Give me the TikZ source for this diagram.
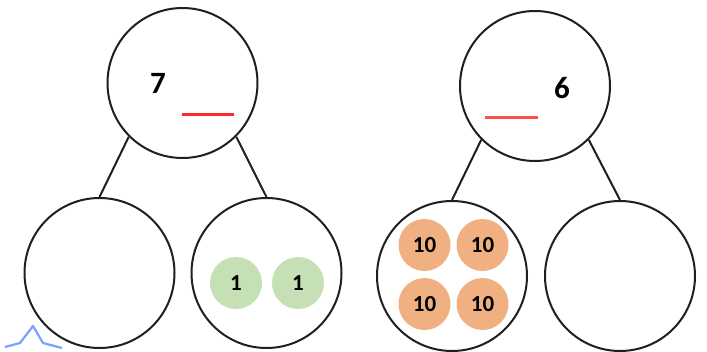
\documentclass[tikz,border=0pt]{standalone}
\usepackage{fontspec}
\setmainfont{Carlito}
\definecolor{dotgreen}{RGB}{197,224,180}
\definecolor{dotorange}{RGB}{240,176,130}
\definecolor{lineredA}{RGB}{255,40,40}
\definecolor{lineredB}{RGB}{255,80,80}
\definecolor{markblue}{RGB}{120,160,255}
\begin{document}
\begin{tikzpicture}[x=1pt,y=-1pt,
  bondcircle/.style={draw=black!88, line width=2pt, circle, inner sep=0pt, minimum size=150pt},
  bondline/.style={draw=black!88, line width=2pt},
  bignum/.style={font=\bfseries\fontsize{31}{31}\selectfont, inner sep=0pt},
  greendot/.style={circle, fill=dotgreen, inner sep=0pt, minimum size=52pt, font=\bfseries\fontsize{23}{23}\selectfont},
  orangedot/.style={circle, fill=dotorange, inner sep=0pt, minimum size=52pt, font=\bfseries\fontsize{23}{23}\selectfont},
  blank/.style={line width=3pt, line cap=butt}
]
\useasboundingbox (0,0) rectangle (707,351);
% left bond
\node[bondcircle] (t1) at (182.5,83) {};
\node[bondcircle] (bl1) at (99.5,273) {};
\node[bondcircle] (bl2) at (266.5,273) {};
\draw[bondline] (t1.225) -- (bl1.north);
\draw[bondline] (t1.-45) -- (bl2.north);
\node[bignum] (n7) at (158,83) {7};
\draw[blank, lineredA] (182,114) -- (234,114);
\node[greendot] (g1) at (236,283) {1};
\node[greendot] (g2) at (298,283) {1};
% right bond
\node[bondcircle] (t2) at (535,86) {};
\node[bondcircle] (br1) at (452,276) {};
\node[bondcircle] (br2) at (620,276) {};
\draw[bondline] (t2.225) -- (br1.north);
\draw[bondline] (t2.-45) -- (br2.north);
\node[bignum] (n6) at (562,88) {6};
\draw[blank, lineredB] (485,117) -- (538,117);
\node[orangedot] (o1) at (424.5,245) {10};
\node[orangedot] (o2) at (482.5,245) {10};
\node[orangedot] (o3) at (424.5,304) {10};
\node[orangedot] (o4) at (482.5,304) {10};
% blue mark
\draw[markblue, line width=2.2pt, line join=round] (5,347) -- (20,343) -- (33,326) -- (43,343) -- (62,348);
\end{tikzpicture}
\end{document}
